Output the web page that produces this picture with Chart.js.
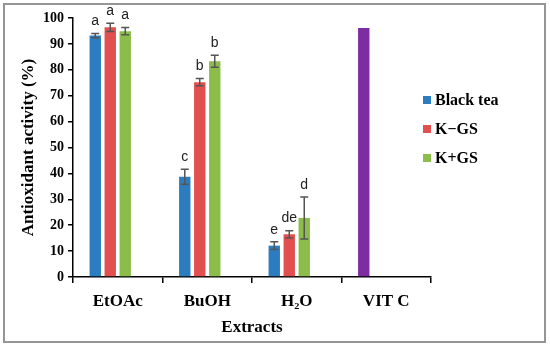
<!DOCTYPE html>
<html>
<head>
<meta charset="utf-8">
<script src="https://cdn.jsdelivr.net/npm/chart.js@4.4.1/dist/chart.umd.min.js"></script>
<style>
  html, body { margin: 0; padding: 0; background: #fff; }
  #wrap { width: 550px; height: 348px; position: relative; }
</style>
</head>
<body>
<div id="wrap"><canvas id="extractChart"></canvas></div>
<script>
// categories and values
const categories = ['EtOAc', 'BuOH', 'H\u2082O', 'VIT C'];
const blackTea = [93.2, 38.7, 12.1, null];
const kMinusGS = [96.4, 75.2, 16.5, null];
const kPlusGS = [94.9, 83.3, 22.8, null];
const vitC = [null, null, null, 96.1];

// standard deviations
const blackTeaErr = [0.8, 2.9, 1.5, null];
const kMinusGSErr = [1.6, 1.4, 1.4, null];
const kPlusGSErr = [1.4, 2.3, 8.1, null];

// significance letters
const blackTeaLetters = ['a', 'c', 'e', ''];
const kMinusGSLetters = ['a', 'b', 'de', ''];
const kPlusGSLetters = ['a', 'b', 'd', ''];

const yTicks = [0, 10, 20, 30, 40, 50, 60, 70, 80, 90, 100];

const serifBold = { family: '"Liberation Serif", "Times New Roman", serif', weight: 'bold' };

// error bars + letters on top of the bars
const errorBarPlugin = {
    id: 'errorBars',
    afterDatasetsDraw(chart) {
        const ctx = chart.ctx;
        const y = chart.scales.y;
        chart.data.datasets.forEach((ds, i) => {
            if (!ds.errors) return;
            const meta = chart.getDatasetMeta(i);
            meta.data.forEach((bar, j) => {
                const v = ds.data[j];
                const e = ds.errors[j];
                if (v == null || e == null) return;
                const top = y.getPixelForValue(v + e);
                const bot = y.getPixelForValue(v - e);
                ctx.save();
                ctx.strokeStyle = '#555555';
                ctx.lineWidth = 1.5;
                ctx.beginPath();
                ctx.moveTo(bar.x, top); ctx.lineTo(bar.x, bot);
                ctx.moveTo(bar.x - 4, top); ctx.lineTo(bar.x + 4, top);
                ctx.moveTo(bar.x - 4, bot); ctx.lineTo(bar.x + 4, bot);
                ctx.stroke();
                if (ds.letters && ds.letters[j]) {
                    ctx.fillStyle = '#222';
                    ctx.font = '14px "Liberation Sans", Arial, sans-serif';
                    ctx.textAlign = 'center';
                    ctx.textBaseline = 'bottom';
                    ctx.fillText(ds.letters[j], bar.x, top - 5);
                }
                ctx.restore();
            });
        });
    }
};

// legend drawn at the right, plus the outer frame
const sideLegendPlugin = {
    id: 'sideLegend',
    afterDraw(chart) {
        const ctx = chart.ctx;
        ctx.save();
        let yy = 100;
        chart.data.datasets.forEach(ds => {
            if (ds.hideInLegend) return;
            ctx.fillStyle = ds.backgroundColor;
            ctx.fillRect(423, yy - 4, 8, 8);
            ctx.fillStyle = '#000';
            ctx.font = 'bold 16px "Liberation Serif", "Times New Roman", serif';
            ctx.textAlign = 'left';
            ctx.textBaseline = 'middle';
            ctx.fillText(ds.label, 435, yy + 1);
            yy += 29;
        });
        ctx.strokeStyle = '#959595';
        ctx.lineWidth = 2;
        ctx.strokeRect(4, 4, 541, 338);
        ctx.restore();
    }
};

const ctx = document.getElementById('extractChart').getContext('2d');
const extractChart = new Chart(ctx, {
    type: 'bar',
    data: {
        labels: categories,
        datasets: [
            { label: 'Black tea', data: blackTea, errors: blackTeaErr, letters: blackTeaLetters,
              backgroundColor: '#2b7dc0', stack: 's1' },
            { label: 'K\u2212GS', data: kMinusGS, errors: kMinusGSErr, letters: kMinusGSLetters,
              backgroundColor: '#e24f4f', stack: 's2' },
            { label: 'K+GS', data: kPlusGS, errors: kPlusGSErr, letters: kPlusGSLetters,
              backgroundColor: '#8cbd4b', stack: 's3' },
            { label: 'VIT C', data: vitC, backgroundColor: '#7e2ca1', stack: 's1', hideInLegend: true }
        ]
    },
    options: {
        responsive: true,
        maintainAspectRatio: false,
        animation: false,
        categoryPercentage: 0.67,
        barPercentage: 0.76,
        layout: { padding: { left: 10, right: 119, top: 18, bottom: 0 } },
        plugins: {
            legend: { display: false },
            tooltip: { enabled: false }
        },
        scales: {
            x: {
                stacked: false,
                offset: true,
                grid: { offset: true, drawOnChartArea: false, drawTicks: true, tickLength: 6, color: '#000', lineWidth: 1.5 },
                border: { display: true, color: '#000', width: 1.5 },
                ticks: { color: '#000', padding: 8, font: { ...serifBold, size: 17 } },
                title: { display: true, text: 'Extracts', color: '#000',
                         font: { ...serifBold, size: 17 }, padding: { top: 0, bottom: 10 } },
                afterFit(scale) { scale.height = 71; }
            },
            y: {
                stacked: true,
                min: 0,
                max: 100,
                afterBuildTicks(scale) { scale.ticks = yTicks.map(v => ({ value: v })); },
                grid: { drawOnChartArea: false, drawTicks: true, tickLength: 5, color: '#000', lineWidth: 1.5 },
                border: { display: true, color: '#000', width: 1.5 },
                ticks: { color: '#000', padding: 4, font: { ...serifBold, size: 14 } },
                title: { display: true, text: 'Antioxidant activity (%)', color: '#000',
                         font: { ...serifBold, size: 17 }, padding: { top: 8, bottom: 0 } },
                afterFit(scale) { scale.width = 63; }
            }
        }
    },
    plugins: [errorBarPlugin, sideLegendPlugin]
});
</script>
</body>
</html>
